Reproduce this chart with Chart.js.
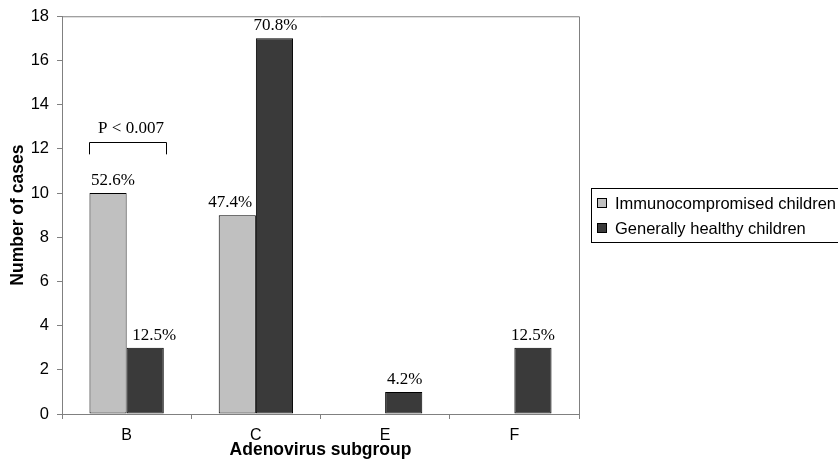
<!DOCTYPE html>
<html>
<head>
<meta charset="utf-8">
<script src="https://cdn.jsdelivr.net/npm/chart.js@4.4.0/dist/chart.umd.min.js"></script>
<style>
  html, body { margin: 0; padding: 0; background: #fff; }
  #wrap { position: relative; width: 838px; height: 459px; }
</style>
</head>
<body>
<div id="wrap"><canvas id="AdenoChart" width="838" height="459"></canvas></div>
<script>
const subgroups = ["B", "C", "E", "F"];
const immunoCases = [10, 9, 0, 0];
const healthyCases = [3, 17, 1, 3];
const immunoPct = ["52.6%", "47.4%", "", ""];
const healthyPct = ["12.5%", "70.8%", "4.2%", "12.5%"];
const yTicks = [0, 2, 4, 6, 8, 10, 12, 14, 16, 18];
const pValueText = "P < 0.007";

// labels over bars, the p-value bracket, the plot frame and the boxed legend
const extrasPlugin = {
    id: 'extras',
    afterDatasetsDraw(chart) {
        const ctx = chart.ctx;
        const area = chart.chartArea;
        const y = chart.scales.y;

        // frame top + right
        ctx.save();
        ctx.strokeStyle = "#808080";
        ctx.lineWidth = 1;
        ctx.beginPath();
        ctx.moveTo(area.left, area.top + 0.5);
        ctx.lineTo(area.right + 0.5, area.top + 0.5);
        ctx.lineTo(area.right + 0.5, area.bottom);
        ctx.stroke();
        ctx.restore();

        // hand-placed label nudges, like the excel original
        const nudge = [[5, -7, 0, 0], [9, 1, 1, 0]];
        const pctLists = [immunoPct, healthyPct];
        ctx.save();
        ctx.font = "17px 'Liberation Serif', 'Times New Roman', serif";
        ctx.fillStyle = "#000";
        ctx.textAlign = "center";
        ctx.textBaseline = "alphabetic";
        chart.data.datasets.forEach((ds, di) => {
            const meta = chart.getDatasetMeta(di);
            meta.data.forEach((bar, i) => {
                const txt = pctLists[di][i];
                if (!txt) return;
                ctx.fillText(txt, bar.x + nudge[di][i], bar.y - 8);
            });
        });

        // bracket over group B
        const b0 = chart.getDatasetMeta(0).data[0];
        const b1 = chart.getDatasetMeta(1).data[0];
        const x0 = Math.round(b0.x - b0.width / 2) + 0.5;
        const x1 = Math.round(b1.x + b1.width / 2 + 2) + 0.5;
        const yTop = Math.round(y.getPixelForValue(12.3)) + 0.5;
        const yBot = y.getPixelForValue(11.75);
        ctx.strokeStyle = "#000";
        ctx.lineWidth = 1;
        ctx.beginPath();
        ctx.moveTo(x0, yBot);
        ctx.lineTo(x0, yTop);
        ctx.lineTo(x1, yTop);
        ctx.lineTo(x1, yBot);
        ctx.stroke();
        ctx.fillText(pValueText, (x0 + x1) / 2 + 3, yTop - 10);
        ctx.restore();

        // legend
        const lx = 591, ly = 188, lw = 260, lh = 54;
        ctx.save();
        ctx.fillStyle = "#fff";
        ctx.fillRect(lx, ly, lw, lh);
        ctx.strokeStyle = "#000";
        ctx.lineWidth = 1;
        ctx.strokeRect(lx + 0.5, ly + 0.5, lw, lh);
        ctx.font = "16.5px 'Liberation Sans', Arial, sans-serif";
        ctx.textAlign = "left";
        ctx.textBaseline = "middle";
        chart.data.datasets.forEach((ds, di) => {
            const cy = ly + 15 + di * 25;
            ctx.fillStyle = ds.backgroundColor;
            ctx.fillRect(597.5, cy - 4.5, 9, 9);
            ctx.strokeStyle = "#000";
            ctx.strokeRect(597.5, cy - 4.5, 9, 9);
            ctx.fillStyle = "#000";
            ctx.fillText(ds.label, 615, cy + 1);
        });
        ctx.restore();
    }
};

const data = {
    labels: subgroups,
    datasets: [
        {
            label: "Immunocompromised children",
            data: immunoCases,
            backgroundColor: "#c0c0c0",
            borderColor: "#000",
            borderWidth: 1,
            borderSkipped: false
        },
        {
            label: "Generally healthy children",
            data: healthyCases,
            backgroundColor: "#3a3a3a",
            borderColor: "#000",
            borderWidth: 1,
            borderSkipped: false
        }
    ]
};

const ctx = document.getElementById('AdenoChart').getContext('2d');
const myBarChart = new Chart(ctx, {
    type: 'bar',
    data: data,
    plugins: [extrasPlugin],
    options: {
        responsive: false,
        animation: false,
        layout: { padding: { top: 16, right: 259, left: 0, bottom: 0 } },
        plugins: {
            legend: { display: false },
            tooltip: { enabled: false }
        },
        datasets: {
            bar: { categoryPercentage: 0.575, barPercentage: 1.0 }
        },
        scales: {
            x: {
                offset: true,
                grid: {
                    offset: true,
                    drawOnChartArea: false,
                    drawTicks: true,
                    tickLength: 5,
                    color: "#808080"
                },
                border: { color: "#808080" },
                ticks: {
                    color: "#000",
                    padding: 7,
                    font: { family: "'Liberation Sans', Arial, sans-serif", size: 16 }
                },
                title: {
                    display: true,
                    text: "Adenovirus subgroup",
                    color: "#000",
                    padding: { top: 0, bottom: -2 },
                    font: { family: "'Liberation Sans', Arial, sans-serif", size: 17.5, weight: "bold" }
                },
                afterFit(scale) { scale.height = 45; }
            },
            y: {
                min: 0,
                max: 18,
                afterBuildTicks(scale) { scale.ticks = yTicks.map(v => ({ value: v })); },
                grid: {
                    drawOnChartArea: false,
                    drawTicks: true,
                    tickLength: 5,
                    color: "#808080"
                },
                border: { color: "#808080" },
                ticks: {
                    color: "#000",
                    padding: 8,
                    font: { family: "'Liberation Sans', Arial, sans-serif", size: 16.5, lineHeight: 1.0 }
                },
                title: {
                    display: true,
                    text: "Number of cases",
                    color: "#000",
                    padding: { top: 8, bottom: 0 },
                    font: { family: "'Liberation Sans', Arial, sans-serif", size: 17.5, weight: "bold" }
                },
                afterFit(scale) { scale.width = 62; }
            }
        }
    }
});
</script>
</body>
</html>
